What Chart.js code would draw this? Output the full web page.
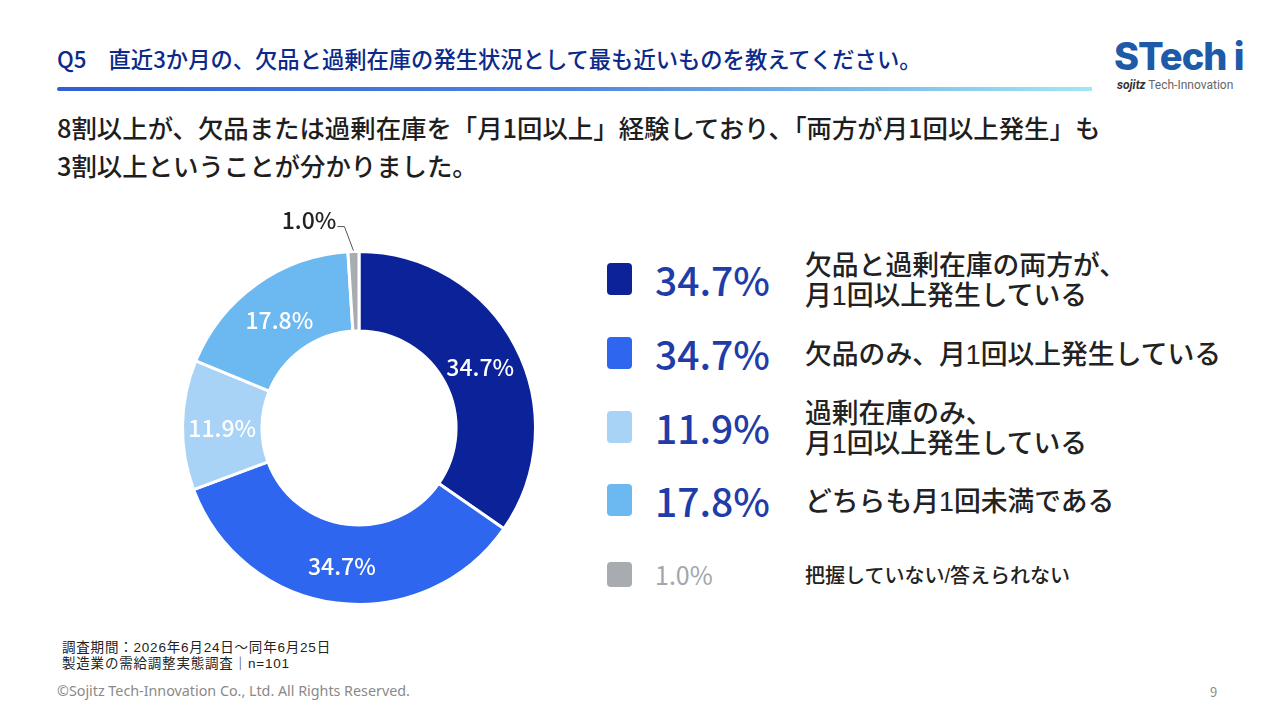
<!DOCTYPE html>
<html lang="ja">
<head>
<meta charset="utf-8">
<script src="https://cdn.jsdelivr.net/npm/chart.js@4"></script>
<style>
  html,body{margin:0;padding:0;background:#fff;}
  body{width:1280px;height:720px;position:relative;overflow:hidden;font-family:"Noto Sans CJK JP","Noto Sans",sans-serif;color:#222;}
  .abs{position:absolute;white-space:nowrap;}
  #title{left:57px;top:43px;font-size:22.3px;font-weight:500;color:#0b2a8a;line-height:30px;}
  #title span{margin-right:22px;}
  #rule{left:57px;top:87px;width:1035px;height:4px;background:linear-gradient(90deg,#2f5fd4 0%,#4f86e0 50%,#9ee8f2 100%);border-radius:2px 0 0 2px;}
  .sub{left:57px;font-size:25.4px;font-weight:500;color:#1e1e1e;height:38px;line-height:38px;}
  #logo{left:1114px;top:34px;font-family:Inter,"DejaVu Sans",sans-serif;font-weight:800;font-size:38px;color:#1d5aa8;letter-spacing:-1px;line-height:44px;}
  #logo2{left:1117px;top:78px;font-family:Roboto,"DejaVu Sans",sans-serif;font-size:12px;color:#666;}
  #logo2 b{font-style:italic;color:#333;}
  #chartBox{position:absolute;left:160px;top:200px;width:400px;height:420px;}
  .sw{position:absolute;width:25px;height:32px;border-radius:4px;}
  .pct{position:absolute;font-family:"Noto Sans CJK JP",sans-serif;font-weight:500;color:#1f3ca8;white-space:nowrap;}
  .lab{position:absolute;color:#222;white-space:nowrap;font-weight:500;font-family:"Liberation Sans","Noto Sans CJK JP",sans-serif;}
  .note{left:62px;font-size:13.5px;height:16px;line-height:16px;color:#222;letter-spacing:0.8px;font-family:"Liberation Sans","Noto Sans CJK JP",sans-serif;}
  #copy{left:57px;top:681px;font-size:14.3px;color:#8a8a8a;font-family:"Noto Sans",sans-serif;}
  #page{left:1210px;top:682px;font-size:13px;color:#8a8a8a;}
</style>
</head>
<body>
<div id="title" class="abs"><span>Q5</span>直近3か月の、欠品と過剰在庫の発生状況として最も近いものを教えてください。</div>
<div id="rule" class="abs"></div>
<div id="logo" class="abs">STech i</div>
<div id="logo2" class="abs"><b>sojitz</b> Tech-Innovation</div>
<div class="abs sub" style="top:108px">8割以上が、欠品または過剰在庫を「月1回以上」経験しており、「両方が月1回以上発生」も</div>
<div class="abs sub" style="top:146px">3割以上ということが分かりました。</div>
<div id="chartBox"><canvas id="c"></canvas></div>
<div id="legend"></div>
<div class="abs note" style="top:640px">調査期間：2026年6月24日～同年6月25日</div>
<div class="abs note" style="top:656px">製造業の需給調整実態調査｜n=101</div>
<div id="copy" class="abs">©Sojitz Tech-Innovation Co., Ltd. All Rights Reserved.</div>
<div id="page" class="abs">9</div>
<script>
// ---- data ----
const categories = [
  "欠品と過剰在庫の両方が、\n月1回以上発生している",
  "欠品のみ、月1回以上発生している",
  "過剰在庫のみ、\n月1回以上発生している",
  "どちらも月1回未満である",
  "把握していない/答えられない"
];
const values = [34.7, 34.7, 11.9, 17.8, 1.0];
const colors = ["#0b2298", "#2f66ef", "#a8d3f6", "#6cb8f0", "#a8abaf"];
const pctLabels = values.map(v => v.toFixed(1) + "%");

// ---- legend (HTML) ----
const legend = document.getElementById("legend");
const rowY = [279, 353, 427, 500, 574];
categories.forEach((cat, i) => {
  const small = i === 4;
  const sw = document.createElement("div");
  sw.className = "sw";
  sw.style.background = colors[i];
  sw.style.left = "607px";
  sw.style.top = (rowY[i] - 16) + "px";
  if (small) { sw.style.height = "25px"; sw.style.top = (rowY[i] - 12) + "px"; }
  legend.appendChild(sw);
  const p = document.createElement("div");
  p.className = "pct";
  p.textContent = pctLabels[i];
  p.style.left = "655px";
  p.style.fontSize = small ? "25px" : "39px";
  p.style.lineHeight = small ? "30px" : "44px";
  p.style.top = (rowY[i] - (small ? 15 : 22)) + "px";
  if (small) { p.style.color = "#a3a6aa"; p.style.fontWeight = "400"; }
  legend.appendChild(p);
  const lines = cat.split("\n");
  const lh = small ? 26 : 30;
  lines.forEach((line, k) => {
    const l = document.createElement("div");
    l.className = "lab";
    l.textContent = line;
    l.style.left = "805px";
    l.style.fontSize = small ? "20px" : "26.8px";
    l.style.lineHeight = lh + "px";
    l.style.height = lh + "px";
    l.style.top = (rowY[i] + 2 - lines.length * lh / 2 + k * lh) + "px";
    legend.appendChild(l);
  });
});

// ---- donut labels plugin ----
const labelPlugin = {
  id: "sliceLabels",
  afterDatasetsDraw(chart) {
    const ctx = chart.ctx;
    const meta = chart.getDatasetMeta(0);
    ctx.save();
    meta.data.forEach((arc, i) => {
      const p = arc.getProps(["x","y","startAngle","endAngle","innerRadius","outerRadius"], true);
      const mid = (p.startAngle + p.endAngle) / 2;
      ctx.font = "500 23px 'Noto Sans CJK JP', sans-serif";
      ctx.textBaseline = "middle";
      if (values[i] < 5) {
        const ox = p.x + Math.cos(mid) * (p.outerRadius + 1);
        const oy = p.y + Math.sin(mid) * (p.outerRadius + 1);
        const ex = ox - 9, ey = oy - 24;
        ctx.strokeStyle = "#555";
        ctx.lineWidth = 1;
        ctx.beginPath();
        ctx.moveTo(ox, oy); ctx.lineTo(ex, ey); ctx.lineTo(ex - 7, ey); ctx.stroke();
        ctx.fillStyle = "#222";
        ctx.textAlign = "right";
        ctx.fillText(pctLabels[i], ex - 8, ey - 6);
      } else {
        const r = (p.innerRadius + p.outerRadius) / 2;
        const x = p.x + Math.cos(mid) * r;
        const y = p.y + Math.sin(mid) * r;
        ctx.fillStyle = "#fff";
        ctx.textAlign = "center";
        ctx.fillText(pctLabels[i], x, y + 3);
      }
    });
    ctx.restore();
  }
};

new Chart(document.getElementById("c"), {
  type: "doughnut",
  data: {
    labels: categories,
    datasets: [{
      data: values,
      backgroundColor: colors,
      borderColor: "#ffffff",
      borderWidth: 3,
      hoverOffset: 0
    }]
  },
  options: {
    responsive: true,
    maintainAspectRatio: false,
    animation: false,
    cutout: "55%",
    layout: { padding: { left: 21, right: 23, top: 50, bottom: 14 } },
    plugins: { legend: { display: false }, tooltip: { enabled: false } }
  },
  plugins: [labelPlugin]
});
</script>
</body>
</html>
